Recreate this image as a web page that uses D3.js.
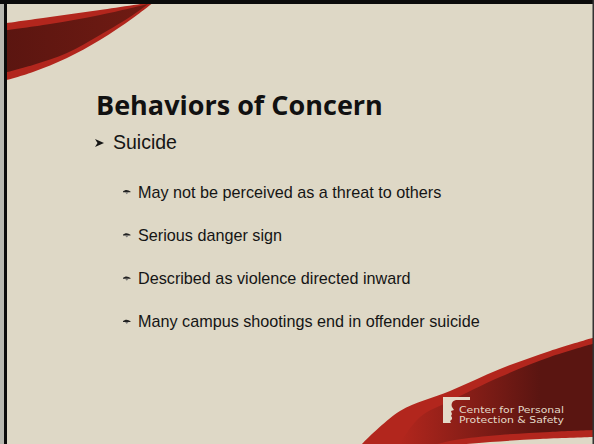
<!DOCTYPE html>
<html>
<head>
  <meta charset="utf-8">
  <script src="https://d3js.org/d3.v7.min.js"></script>
  <style>
    html, body { margin: 0; padding: 0; background: #ded8c6; }
    svg { display: block; }
    .title { font-family: "Open Sans", "Noto Sans", sans-serif; font-weight: bold; fill: #111; }
    .lvl1 { font-family: "Liberation Sans", Arial, sans-serif; font-size: 19.5px; fill: #151515; }
    .lvl2 { font-family: "Liberation Sans", Arial, sans-serif; font-size: 16.2px; fill: #151515; }
    .logo { font-family: "DejaVu Sans", Verdana, sans-serif; font-size: 9.4px; fill: #e4dac8; }
  </style>
</head>
<body>
<div id="slide"></div>
<script>
  // slide content
  var titleText = "Behaviors of Concern";
  var mainBullet = "Suicide";
  var subBullets = [
    "May not be perceived as a threat to others",
    "Serious danger sign",
    "Described as violence directed inward",
    "Many campus shootings end in offender suicide"
  ];
  var logoLines = ["Center for Personal", "Protection & Safety"];

  var w = 594, h = 444;
  var bg = "#ded8c6", red = "#b2261d";

  var svg = d3.select("#slide").append("svg")
    .attr("width", w).attr("height", h);

  var defs = svg.append("defs");
  var g1 = defs.append("linearGradient").attr("id", "tlGrad")
    .attr("x1", "0%").attr("x2", "100%").attr("y1", "0%").attr("y2", "0%");
  g1.append("stop").attr("offset", "0%").attr("stop-color", "#5a1510");
  g1.append("stop").attr("offset", "100%").attr("stop-color", "#701b13");
  var g2 = defs.append("linearGradient").attr("id", "brGrad")
    .attr("gradientUnits", "userSpaceOnUse")
    .attr("x1", 400).attr("x2", 540).attr("y1", 0).attr("y2", 0);
  g2.append("stop").attr("offset", "0%").attr("stop-color", red);
  g2.append("stop").attr("offset", "100%").attr("stop-color", "#5a1511");

  svg.append("rect").attr("width", w).attr("height", h).attr("fill", bg);

  var curve = d3.line().curve(d3.curveCatmullRom);
  function band(upper, lower) {
    return curve(upper) + "L" + curve(lower).slice(1) + "Z";
  }

  // top-left swoosh
  svg.append("path").attr("fill", red)
    .attr("d", band([[0, 24], [50, 17], [100, 10], [154, 2]],
                    [[154, 2], [133, 18], [100, 40], [67, 58], [33, 72], [0, 82]]));
  svg.append("path").attr("fill", "url(#tlGrad)")
    .attr("d", band([[0, 31], [50, 24], [100, 15], [148, 4]],
                    [[148, 4], [133, 15], [100, 35], [67, 53], [33, 65], [0, 74]]));

  // bottom-right swoosh
  svg.append("path").attr("fill", red)
    .attr("d", band([[360, 446], [400, 411], [450, 391], [500, 369], [550, 351], [596, 337]],
                    [[596, 437], [540, 439], [490, 442], [445, 446]]));
  svg.append("path").attr("fill", "url(#brGrad)")
    .attr("d", band([[398, 446], [420, 417], [450, 401], [500, 377], [550, 357], [596, 343]],
                    [[596, 430], [550, 432], [500, 435], [455, 440], [430, 446]]));

  // logo icon
  var cream = "#e4dac8";
  svg.append("path").attr("fill", cream)
    .attr("d", "M443,397 L470,397 L470,400 L456,400 C452,401 451,404 452,407 " +
               "L454,410 L451,411 L452,414 L451,416 C453,418 452,420 450,421 L451,423 L443,423 Z");
  svg.selectAll(".logo").data(logoLines).enter().append("text")
    .attr("class", "logo")
    .attr("x", 459)
    .attr("y", function(d, i) { return 413 + i * 10; })
    .attr("textLength", 105).attr("lengthAdjust", "spacingAndGlyphs")
    .text(function(d) { return d; });

  // title
  var title = svg.append("text").attr("class", "title")
    .attr("x", 96).attr("y", 115).attr("font-size", 27).text(titleText);
  var tw = title.node().getComputedTextLength();
  title.attr("font-size", 27 * 287 / tw);

  // level 1 bullet
  svg.append("path").attr("fill", "#151515")
    .attr("d", "M95,139 L104,143 L95,147 L97.5,143 Z");
  svg.append("text").attr("class", "lvl1")
    .attr("x", 113).attr("y", 149).text(mainBullet);

  // level 2 bullets
  var y2 = d3.scalePoint().domain(d3.range(subBullets.length)).range([197.5, 327.3]);
  var items = svg.selectAll(".sub").data(subBullets).enter().append("g")
    .attr("class", "sub")
    .attr("transform", function(d, i) { return "translate(0," + y2(i) + ")"; });
  items.append("path").attr("fill", "#222")
    .attr("d", "M123,-6 C125,-8 128,-8 130.5,-6 L130.5,-5.2 L123,-5.2 Z");
  items.append("path").attr("fill", "#777")
    .attr("d", "M125,-5.2 L128.5,-5.2 L126.8,-3.2 Z");
  items.append("text").attr("class", "lvl2")
    .attr("x", 138).attr("y", 0).text(function(d) { return d; });

  // frame
  svg.append("rect").attr("x", 0).attr("y", 0).attr("width", 4).attr("height", h).attr("fill", "#b8b8b0");
  svg.append("rect").attr("x", 4).attr("y", 0).attr("width", 3).attr("height", h).attr("fill", "#0b0b0b");
  svg.append("rect").attr("x", 0).attr("y", 0).attr("width", w).attr("height", 4).attr("fill", "#0b0b0b");
  svg.append("rect").attr("x", 592.5).attr("y", 0).attr("width", 1.5).attr("height", h).attr("fill", "#333");
</script>
</body>
</html>
